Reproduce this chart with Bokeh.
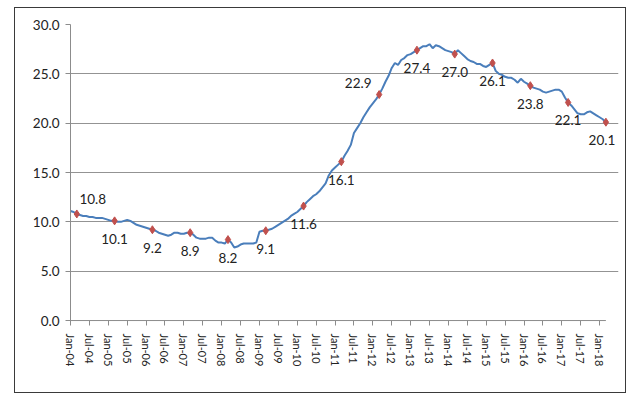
from bokeh.plotting import figure
from bokeh.layouts import row, column
from bokeh.models import FixedTicker, PrintfTickFormatter, ColumnDataSource, LabelSet, Spacer
from bokeh.core.properties import value
from bokeh.embed import file_html
from bokeh.resources import INLINE

# Monthly series, Jan-04 .. Mar-18
values = [
    11.1, 11.0, 10.8, 10.7, 10.6, 10.6, 10.5, 10.5, 10.4, 10.4, 10.4, 10.3,   # 2004
    10.2, 10.1, 10.1, 10.0, 10.0, 10.1, 10.2, 10.1, 9.9, 9.7, 9.6, 9.5,       # 2005
    9.4, 9.3, 9.2, 9.1, 8.9, 8.8, 8.7, 8.6, 8.7, 8.9, 8.9, 8.8,               # 2006
    8.8, 8.9, 8.9, 8.7, 8.4, 8.3, 8.3, 8.3, 8.4, 8.4, 8.1, 7.9,               # 2007
    7.9, 7.8, 8.2, 7.9, 7.4, 7.5, 7.7, 7.8, 7.8, 7.8, 7.8, 7.9,               # 2008
    9.0, 9.1, 9.1, 9.2, 9.3, 9.5, 9.7, 9.9, 10.1, 10.3, 10.6, 10.8,           # 2009
    11.0, 11.3, 11.6, 12.0, 12.3, 12.6, 12.8, 13.1, 13.5, 13.9, 14.7, 15.2,   # 2010
    15.5, 15.8, 16.1, 16.7, 17.2, 17.8, 19.0, 19.5, 20.0, 20.6, 21.1, 21.6,   # 2011
    22.0, 22.4, 22.9, 23.5, 24.2, 24.8, 25.6, 26.1, 25.9, 26.4, 26.6, 26.9,   # 2012
    27.0, 27.2, 27.4, 27.6, 27.8, 27.8, 28.0, 27.6, 27.9, 27.8, 27.6, 27.4,   # 2013
    27.3, 27.2, 27.0, 27.4, 27.1, 26.8, 26.5, 26.3, 26.2, 26.0, 26.0, 25.8,   # 2014
    25.7, 25.9, 26.1, 25.3, 25.0, 24.9, 24.7, 24.6, 24.6, 24.4, 24.1, 24.5,   # 2015
    24.2, 24.0, 23.8, 23.6, 23.5, 23.4, 23.2, 23.1, 23.2, 23.3, 23.4, 23.4,   # 2016
    23.2, 22.6, 22.1, 21.8, 21.4, 21.0, 20.9, 20.9, 21.1, 21.2, 21.0, 20.8,   # 2017
    20.6, 20.4, 20.1,                                                         # 2018
]

# Labelled points (every March)
marker_months = [2, 14, 26, 38, 50, 62, 74, 86, 98, 110, 122, 134, 146, 158, 170]
marker_values = [10.8, 10.1, 9.2, 8.9, 8.2, 9.1, 11.6, 16.1, 22.9, 27.4, 27.0, 26.1, 23.8, 22.1, 20.1]

tick_months = [0, 6, 12, 18, 24, 30, 36, 42, 48, 54, 60, 66, 72, 78, 84, 90, 96, 102,
               108, 114, 120, 126, 132, 138, 144, 150, 156, 162, 168]
tick_labels = ["Jan-04", "Jul-04", "Jan-05", "Jul-05", "Jan-06", "Jul-06", "Jan-07", "Jul-07",
               "Jan-08", "Jul-08", "Jan-09", "Jul-09", "Jan-10", "Jul-10", "Jan-11", "Jul-11",
               "Jan-12", "Jul-12", "Jan-13", "Jul-13", "Jan-14", "Jul-14", "Jan-15", "Jul-15",
               "Jan-16", "Jul-16", "Jan-17", "Jul-17", "Jan-18"]

# label placement (style), screen pixels, positive dy = upward
lab_dx = [16, 0, 0, 0, 0, 0, 0, 0, -21, 0, 0, 0, 0, 0, -4]
lab_dy = [15, -18, -18, -18, -18, -18, -18, -18, 12, -18, -18, -18, -18, -18, -18]

FONT = "Lato"
TXT = "#222222"
AXIS = "#8c8c8c"

p = figure(width=612, height=386, output_backend="svg", toolbar_location=None,
           x_range=(0, 174), y_range=(-0.3, 30),
           min_border_left=55, min_border_right=9, min_border_top=16, min_border_bottom=71,
           background_fill_color="white", border_fill_color="white",
           styles={"border": "1.5px solid #3a3a3a"})
p.outline_line_color = None

# horizontal category axis line, drawn along the data span
n = len(values)
p.segment(x0=[0], y0=[0], x1=[n - 1], y1=[0], line_color=AXIS, line_width=1)

p.line(list(range(n)), values, line_color="#4A7EBB", line_width=2)

src = ColumnDataSource(dict(x=marker_months, y=marker_values,
                            t=["%.1f" % v for v in marker_values], dx=lab_dx, dy=lab_dy))
p.scatter("x", "y", source=src, marker="diamond", size=8, fill_color="#C0504D",
          line_color="#C0504D")
labels = LabelSet(x="x", y="y", text="t", source=src, x_offset="dx", y_offset="dy",
                  text_align="center", text_baseline="middle", text_font=value(FONT),
                  text_font_size="13.5px", text_color=TXT)
p.add_layout(labels)

# y axis
p.yaxis.ticker = FixedTicker(ticks=[0, 5, 10, 15, 20, 25, 30])
p.yaxis.formatter = PrintfTickFormatter(format="%.1f")
p.yaxis.major_tick_in = 0
p.yaxis.major_tick_out = 5
p.yaxis.minor_tick_line_color = None
p.yaxis.axis_line_color = AXIS
p.yaxis.major_tick_line_color = AXIS
p.yaxis.major_label_text_font = FONT
p.yaxis.major_label_text_font_size = "13.5px"
p.yaxis.major_label_text_color = TXT
p.yaxis.major_label_standoff = 6

# x axis
p.xaxis.ticker = FixedTicker(ticks=tick_months)
p.xaxis.major_label_overrides = {m: l for m, l in zip(tick_months, tick_labels)}
p.xaxis.major_label_orientation = "vertical"
p.xaxis.major_tick_in = 3
p.xaxis.major_tick_out = 2
p.xaxis.minor_tick_line_color = None
p.xaxis.axis_line_color = None
p.xaxis.major_tick_line_color = AXIS
p.xaxis.major_label_text_font = FONT
p.xaxis.major_label_text_font_size = "11px"
p.xaxis.major_label_text_color = TXT
p.xaxis.major_label_standoff = 8

p.xgrid.grid_line_color = None
p.ygrid.ticker = FixedTicker(ticks=[5, 10, 15, 20, 25, 30])
p.ygrid.grid_line_color = "#939393"
p.ygrid.grid_line_width = 1.2

layout = column(Spacer(width=10, height=7), row(Spacer(width=14, height=10), p))
open("out.html", "w").write(file_html(layout, INLINE))
